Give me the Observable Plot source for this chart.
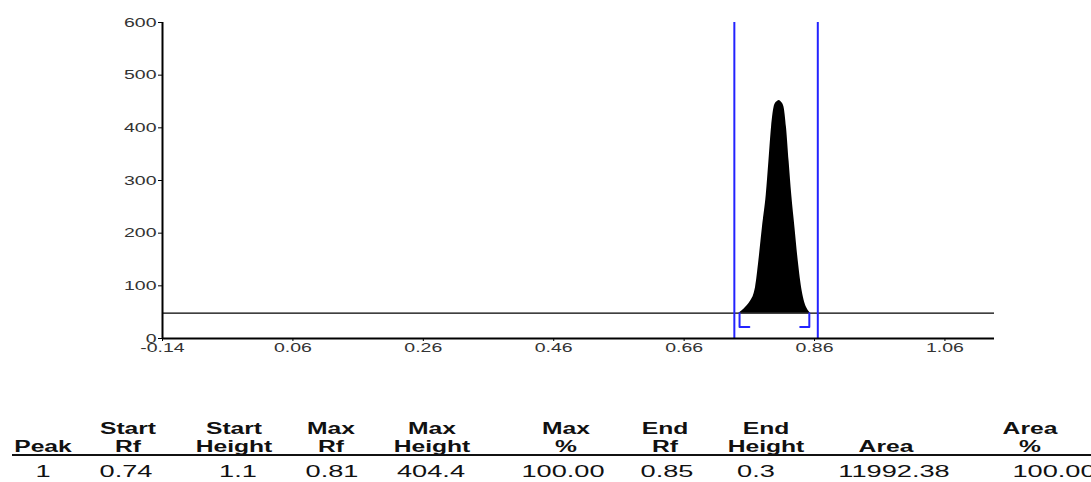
<!DOCTYPE html>
<html>
<head>
<meta charset="utf-8">
<script src="https://cdn.jsdelivr.net/npm/d3@7"></script>
<script src="https://cdn.jsdelivr.net/npm/@observablehq/plot@0.6"></script>
<style>
  html, body { margin: 0; padding: 0; background: #fff; }
  #wrap { position: relative; width: 1091px; height: 482px; overflow: hidden; }
  #table { position: absolute; left: 0; top: 0; }
</style>
</head>
<body>
<div id="wrap"><div id="chart"></div><svg id="table" width="1091" height="482"></svg></div>
<script>
// ---- data ----
const peakRf     = [0.744, 0.752, 0.762, 0.767, 0.7695, 0.7746, 0.780, 0.786, 0.790, 0.794, 0.799, 0.803, 0.806, 0.809, 0.813, 0.817, 0.821, 0.825, 0.830, 0.835, 0.841, 0.845, 0.849, 0.854];
const peakHeight = [48, 56, 71, 84, 97, 147, 210, 273, 336, 400, 444, 450, 452, 449, 440, 400, 336, 273, 210, 147, 90, 68, 56, 48];
const baselineLevel = 48;
const boundaryRf = [0.737, 0.865];
const bracketLeft  = {rf: [0.760, 0.745, 0.745], h: [22, 22, 48]};
const bracketRight = {rf: [0.838, 0.852, 0.852], h: [22, 22, 48]};
const xTicks = [-0.14, 0.06, 0.26, 0.46, 0.66, 0.86, 1.06];
const yTicks = [0, 100, 200, 300, 400, 500, 600];

const headerLine1 = ["", "Start", "Start", "Max", "Max", "Max", "End", "End", "", "Area"];
const headerLine2 = ["Peak", "Rf", "Height", "Rf", "Height", "%", "Rf", "Height", "Area", "%"];
const rowValues   = ["1", "0.74", "1.1", "0.81", "404.4", "100.00", "0.85", "0.3", "11992.38", "100.00"];

// ---- layout ----
const headerX = [43, 128, 234, 331, 432, 566, 665, 766, 886, 1030];
const valueX  = [43, 126, 238, 332, 431, 563, 667, 756, 894, 1054];

const peak = peakRf.map((rf, i) => ({rf, h: peakHeight[i]}));
const bl = bracketLeft.rf.map((rf, i) => ({rf, h: bracketLeft.h[i]}));
const br = bracketRight.rf.map((rf, i) => ({rf, h: bracketRight.h[i]}));

const chart = Plot.plot({
  width: 1091,
  height: 360,
  marginLeft: 162,
  marginRight: 97,
  marginTop: 22,
  marginBottom: 22,
  style: {fontFamily: "'Liberation Sans', Arial, sans-serif", fontSize: "13px", color: "#333", background: "#fff"},
  x: {domain: [-0.14, 1.136]},
  y: {domain: [0, 600]},
  marks: [
    Plot.areaY(peak, {x: "rf", y1: baselineLevel, y2: "h", fill: "#000", curve: "monotone-x"}),
    Plot.ruleY([baselineLevel], {stroke: "#000", strokeWidth: 1.2}),
    Plot.ruleX(boundaryRf, {y1: 0, y2: 600, stroke: "#2323ff", strokeWidth: 2}),
    Plot.line(bl, {x: "rf", y: "h", stroke: "#2323ff", strokeWidth: 2}),
    Plot.line(br, {x: "rf", y: "h", stroke: "#2323ff", strokeWidth: 2}),
    Plot.ruleX([-0.14], {y1: 0, y2: 600, stroke: "#000", strokeWidth: 2}),
    Plot.ruleY([0], {stroke: "#000", strokeWidth: 2}),
    Plot.axisY({ticks: yTicks, tickSize: 4, tickPadding: 2, label: null, stroke: "#000"}),
    Plot.axisX({ticks: xTicks, tickFormat: d => d.toFixed(2), tickSize: 3, tickPadding: 1, label: null, stroke: "#000"})
  ]
});
document.getElementById("chart").appendChild(chart);

// horizontally widen tick labels like the reference's stretched rendering
function stretch(t, s) {
  const x = parseFloat(t.getAttribute("x")) || 0;
  const tr = t.getAttribute("transform") || "";
  t.setAttribute("transform", `${tr} translate(${x},0) scale(${s},1) translate(${-x},0)`);
}
chart.querySelectorAll('g[aria-label="y-axis tick label"] text').forEach(t => stretch(t, 1.5));
chart.querySelectorAll('g[aria-label="x-axis tick label"] text').forEach(t => stretch(t, 1.5));

// ---- table ----
const tbl = d3.select("#table");
const font = "'Liberation Sans', Arial, sans-serif";
function cell(txt, x, y, size, weight, s) {
  if (!txt) return;
  tbl.append("text").attr("transform", `translate(${x},${y}) scale(${s},1)`)
    .attr("text-anchor", "middle").attr("font-family", font).attr("font-size", size)
    .attr("font-weight", weight).attr("fill", "#111").text(txt);
}
headerLine1.forEach((t, i) => cell(t, headerX[i], 434, 17, "bold", 1.45));
headerLine2.forEach((t, i) => cell(t, headerX[i], 452, 17, "bold", 1.45));
tbl.append("line").attr("x1", 12).attr("x2", 1091).attr("y1", 455).attr("y2", 455).attr("stroke", "#111").attr("stroke-width", 2);
rowValues.forEach((t, i) => cell(t, valueX[i], 477, 16, "normal", 1.7));
</script>
</body>
</html>
